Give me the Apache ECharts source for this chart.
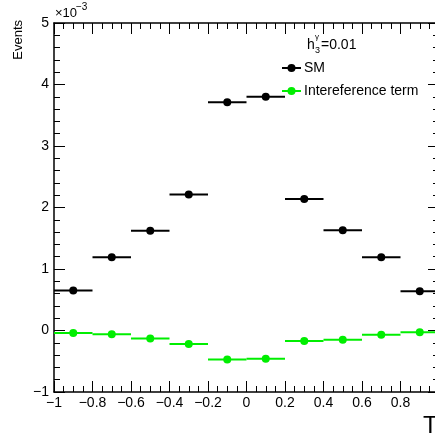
<!DOCTYPE html>
<html><head><meta charset="utf-8">
<script src="https://cdn.jsdelivr.net/npm/echarts@6/dist/echarts.min.js"></script>
<style>html,body{margin:0;padding:0;background:#fff}#c{width:435px;height:441px}</style>
</head><body><div id="c"></div>
<script>
const binCenters = [-0.9, -0.7, -0.5, -0.3, -0.1, 0.1, 0.3, 0.5, 0.7, 0.9];
const binHalfWidth = 0.1;
const smValues = [0.65, 1.19, 1.62, 2.21, 3.71, 3.80, 2.14, 1.63, 1.19, 0.64];
const intValues = [-0.04, -0.06, -0.13, -0.22, -0.47, -0.46, -0.17, -0.15, -0.07, -0.03];
const xTickLabels = ['−1','−0.8','−0.6','−0.4','−0.2','0','0.2','0.4','0.6','0.8'];
const yTickLabels = ['−1','0','1','2','3','4','5'];

const FONT = '"Liberation Sans", Arial, sans-serif';
const chart = echarts.init(document.getElementById('c'), null, {renderer: 'canvas'});

function errSeries(name, vals, color) {
  return {
    type: 'custom', name: name,
    xAxisIndex: 0, yAxisIndex: 0,
    data: binCenters.map((x, i) => [x, vals[i]]),
    clip: false,
    renderItem: function (params, api) {
      const x = api.value(0), y = api.value(1);
      const p1 = api.coord([x - binHalfWidth, y]);
      const p2 = api.coord([x + binHalfWidth, y]);
      const c = api.coord([x, y]);
      return {
        type: 'group',
        children: [
          {type: 'line', shape: {x1: p1[0], y1: p1[1], x2: p2[0], y2: p2[1]}, style: {stroke: color, lineWidth: 2}},
          {type: 'circle', shape: {cx: c[0], cy: c[1], r: 4}, style: {fill: color}}
        ]
      };
    }
  };
}

const xLabelFmt = function (v) {
  const idx = Math.round((v + 1) / 0.2);
  return idx < xTickLabels.length ? xTickLabels[idx] : '';
};
const yLabelFmt = function (v) {
  const idx = Math.round(v + 1);
  return yTickLabels[idx] || '';
};

const axisLine = {show: true, onZero: false, lineStyle: {color: '#000', width: 1.5}};
const xBase = {
  type: 'value', min: -1, max: 1, interval: 0.2,
  axisLine: axisLine,
  axisTick: {show: true, inside: true, length: 11, lineStyle: {color: '#000', width: 1}},
  minorTick: {show: true, splitNumber: 4, length: 6, lineStyle: {color: '#000', width: 1}},
  splitLine: {show: false}, minorSplitLine: {show: false}
};
const yBase = {
  type: 'value', min: -1, max: 5, interval: 1,
  axisLine: axisLine,
  axisTick: {show: true, inside: true, length: 11, lineStyle: {color: '#000', width: 1}},
  minorTick: {show: true, splitNumber: 5, length: 6, lineStyle: {color: '#000', width: 1}},
  splitLine: {show: false}, minorSplitLine: {show: false}
};

chart.setOption({
  animation: false,
  backgroundColor: '#fff',
  grid: {left: 54, top: 23, width: 385, height: 369, containLabel: false, outerBoundsMode: 'none'},
  xAxis: [
    Object.assign({}, xBase, {position: 'bottom',
      axisLabel: {show: true, formatter: xLabelFmt, margin: 4, color: '#000', fontSize: 14, fontFamily: FONT}}),
    Object.assign({}, xBase, {position: 'top', axisLabel: {show: false}})
  ],
  yAxis: [
    Object.assign({}, yBase, {position: 'left',
      axisLabel: {show: true, formatter: yLabelFmt, margin: 5, color: '#000', fontSize: 14, fontFamily: FONT}}),
    Object.assign({}, yBase, {position: 'right', axisLabel: {show: false}})
  ],
  series: [
    errSeries('SM', smValues, '#000000'),
    errSeries('Intereference term', intValues, '#00ee00')
  ],
  graphic: [
    {type: 'text', left: 12, top: 20, rotation: Math.PI / 2,
      style: {text: 'Events', font: '13px ' + FONT, fill: '#000'}},
    {type: 'text', x: 55, y: 7, style: {text: '×10', font: '13px ' + FONT, fill: '#000'}},
    {type: 'text', x: 76, y: 2, style: {text: '−3', font: '10px ' + FONT, fill: '#000'}},
    {type: 'text', x: 423, y: 414, style: {text: 'T', font: '24px ' + FONT, fill: '#000'}},
    // legend
    {type: 'text', x: 307, y: 38, style: {text: 'h', font: '14px ' + FONT, fill: '#000'}},
    {type: 'text', x: 315, y: 33, style: {text: 'γ', font: '8px ' + FONT, fill: '#000'}},
    {type: 'text', x: 315, y: 46, style: {text: '3', font: '9px ' + FONT, fill: '#000'}},
    {type: 'text', x: 321, y: 38, style: {text: '=0.01', font: '14px ' + FONT, fill: '#000'}},
    {type: 'line', shape: {x1: 282, y1: 68, x2: 301, y2: 68}, style: {stroke: '#000', lineWidth: 2}},
    {type: 'circle', shape: {cx: 291.5, cy: 68, r: 4}, style: {fill: '#000'}},
    {type: 'text', x: 304, y: 61, style: {text: 'SM', font: '14px ' + FONT, fill: '#000'}},
    {type: 'line', shape: {x1: 282, y1: 91, x2: 301, y2: 91}, style: {stroke: '#00ee00', lineWidth: 2}},
    {type: 'circle', shape: {cx: 291.5, cy: 91, r: 4}, style: {fill: '#00ee00'}},
    {type: 'text', x: 304, y: 84, style: {text: 'Intereference term', font: '14px ' + FONT, fill: '#000'}}
  ]
});
</script></body></html>
